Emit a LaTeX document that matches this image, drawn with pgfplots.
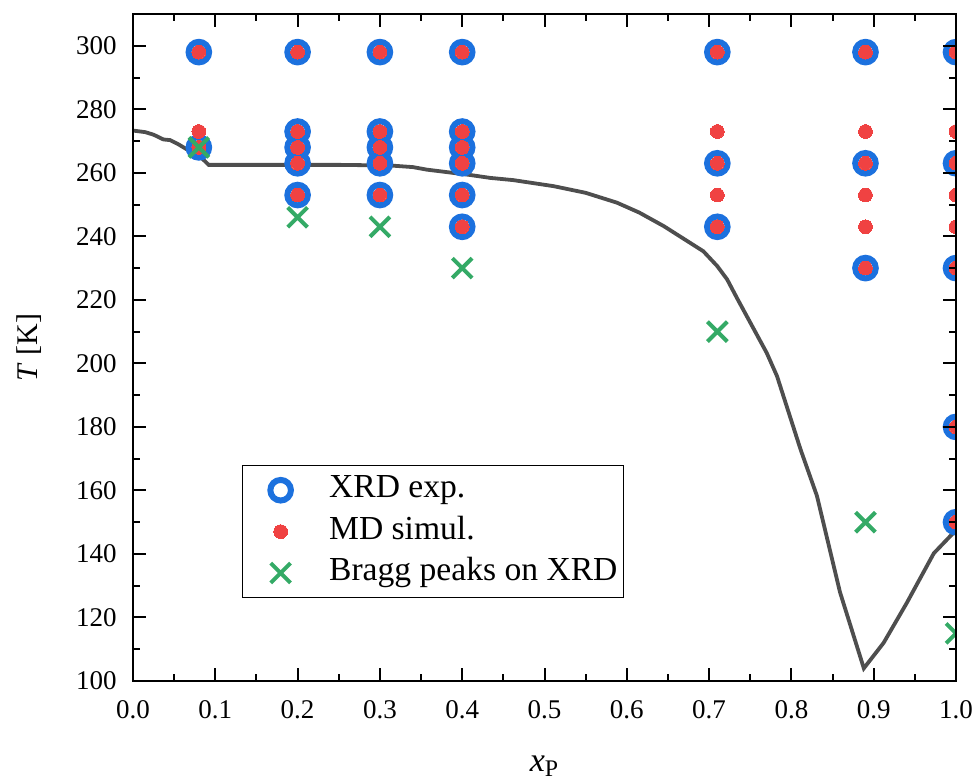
\documentclass[border=0pt]{standalone}
\usepackage{fontspec}
\setmainfont{Liberation Serif}
\usepackage{pgfplots}
\pgfplotsset{compat=1.18}

\definecolor{xrdblue}{RGB}{28,113,222}
\definecolor{mdred}{RGB}{240,66,66}
\definecolor{braggreen}{RGB}{52,170,102}
\definecolor{curvegray}{RGB}{78,78,78}

\begin{document}
\begin{tikzpicture}
\fontsize{13.5}{16}\selectfont
\begin{axis}[
  scale only axis,
  width=411.5pt, height=333.5pt,
  xmin=0, xmax=1, ymin=100, ymax=310,
  xtick={0,0.1,...,1.01},
  ytick={100,120,...,300},
  minor x tick num=1, minor y tick num=1,
  tick pos=both, tick align=inside,
  major tick length=6.3pt, minor tick length=3.3pt,
  every tick/.style={black, line width=1pt},
  axis line style={black, line width=1.3pt},
  axis on top,
  clip marker paths=true,
  /pgf/number format/assume math mode=true,
  tick label style={font=\fontsize{13.5}{16}\selectfont},
  xticklabel style={/pgf/number format/fixed, /pgf/number format/fixed zerofill,
    /pgf/number format/precision=1, yshift=-5pt},
  yticklabel style={xshift=-3.5pt},
  xlabel={\textit{x}\textsubscript{P}},
  ylabel={\textit{T} [K]},
  xlabel style={font=\fontsize{17}{20}\selectfont,
    at={(axis description cs:0.5,-0.1274)}, anchor=center},
  ylabel style={font=\fontsize{15}{18}\selectfont,
    at={(axis description cs:-0.1264,0.5)}, anchor=center},
  legend style={
    at={(axis description cs:0.132,0.3238)}, anchor=north west,
    draw=black, line width=0.5pt, inner xsep=0pt, inner ysep=2pt,
    font=\fontsize{16.8}{20}\selectfont,
    nodes={inner xsep=3pt, inner ysep=4.1pt, text height=10pt, text depth=2.5pt},
    row sep=0pt, column sep=0pt,
  },
  legend cell align=left,
  legend image code/.code={
    \path (0pt,0pt) (40pt,0pt);
    \draw[#1] plot coordinates {(19pt,0pt)};
  },
]

% liquidus curve
\addplot[curvegray, line width=1.9pt, forget plot] coordinates {
  (0,273.3) (0.015,272.8) (0.025,272) (0.033,271) (0.037,270.5)
  (0.045,270.3) (0.055,269) (0.066,267.3) (0.08,265.5) (0.092,262.5)
  (0.25,262.5) (0.313,262.3) (0.34,261.8) (0.357,261) (0.41,259.3)
  (0.434,258.4) (0.462,257.7) (0.511,255.8) (0.55,253.7) (0.588,250.6)
  (0.615,247.5) (0.645,243.2) (0.693,235.3) (0.71,230.6) (0.722,226.4)
  (0.734,220.5) (0.77,203.3) (0.7825,196) (0.811,173) (0.831,158.3)
  (0.859,128) (0.888,104) (0.912,112) (0.94,124.5) (0.973,140.2) (1.0,147.5)
};

% XRD experiments
\addplot[only marks, xrdblue, mark=o, mark size=5.15pt,
  mark options={draw=xrdblue, line width=3pt}] coordinates {
  (0.08,298) (0.08,268)
  (0.2,298) (0.2,273) (0.2,268) (0.2,263) (0.2,253)
  (0.3,298) (0.3,273) (0.3,268) (0.3,263) (0.3,253)
  (0.4,298) (0.4,273) (0.4,268) (0.4,263) (0.4,253) (0.4,243)
  (0.71,298) (0.71,263) (0.71,243)
  (0.89,298) (0.89,263) (0.89,230)
  (1.0,298) (1.0,263) (1.0,230) (1.0,180) (1.0,150)
};
\addlegendentry{XRD exp.}

% MD simulations
\addplot[only marks, mdred, mark=*, mark size=3.45pt,
  mark options={draw=mdred, fill=mdred, line width=0pt}] coordinates {
  (0.08,298) (0.08,273) (0.08,268)
  (0.2,298) (0.2,273) (0.2,268) (0.2,263) (0.2,253)
  (0.3,298) (0.3,273) (0.3,268) (0.3,263) (0.3,253)
  (0.4,298) (0.4,273) (0.4,268) (0.4,263) (0.4,253) (0.4,243)
  (0.71,298) (0.71,273) (0.71,263) (0.71,253) (0.71,243)
  (0.89,298) (0.89,273) (0.89,263) (0.89,253) (0.89,243) (0.89,230)
  (1.0,298) (1.0,273) (1.0,263) (1.0,253) (1.0,243) (1.0,230) (1.0,180) (1.0,150)
};
\addlegendentry{MD simul.}

% Bragg peaks observed on XRD
\addplot[only marks, braggreen, mark=x, mark size=7pt,
  mark options={draw=braggreen, line width=2pt}] coordinates {
  (0.08,268) (0.2,246) (0.3,243) (0.4,230) (0.71,210) (0.89,150) (1.0,115)
};
\addlegendentry{Bragg peaks on XRD}

\end{axis}
\pgfresetboundingbox
\path[use as bounding box]
  ([shift={(-66.5pt,-51pt)}]current axis.south west)
  rectangle ([shift={(11pt,7pt)}]current axis.north east);
\end{tikzpicture}
\end{document}
